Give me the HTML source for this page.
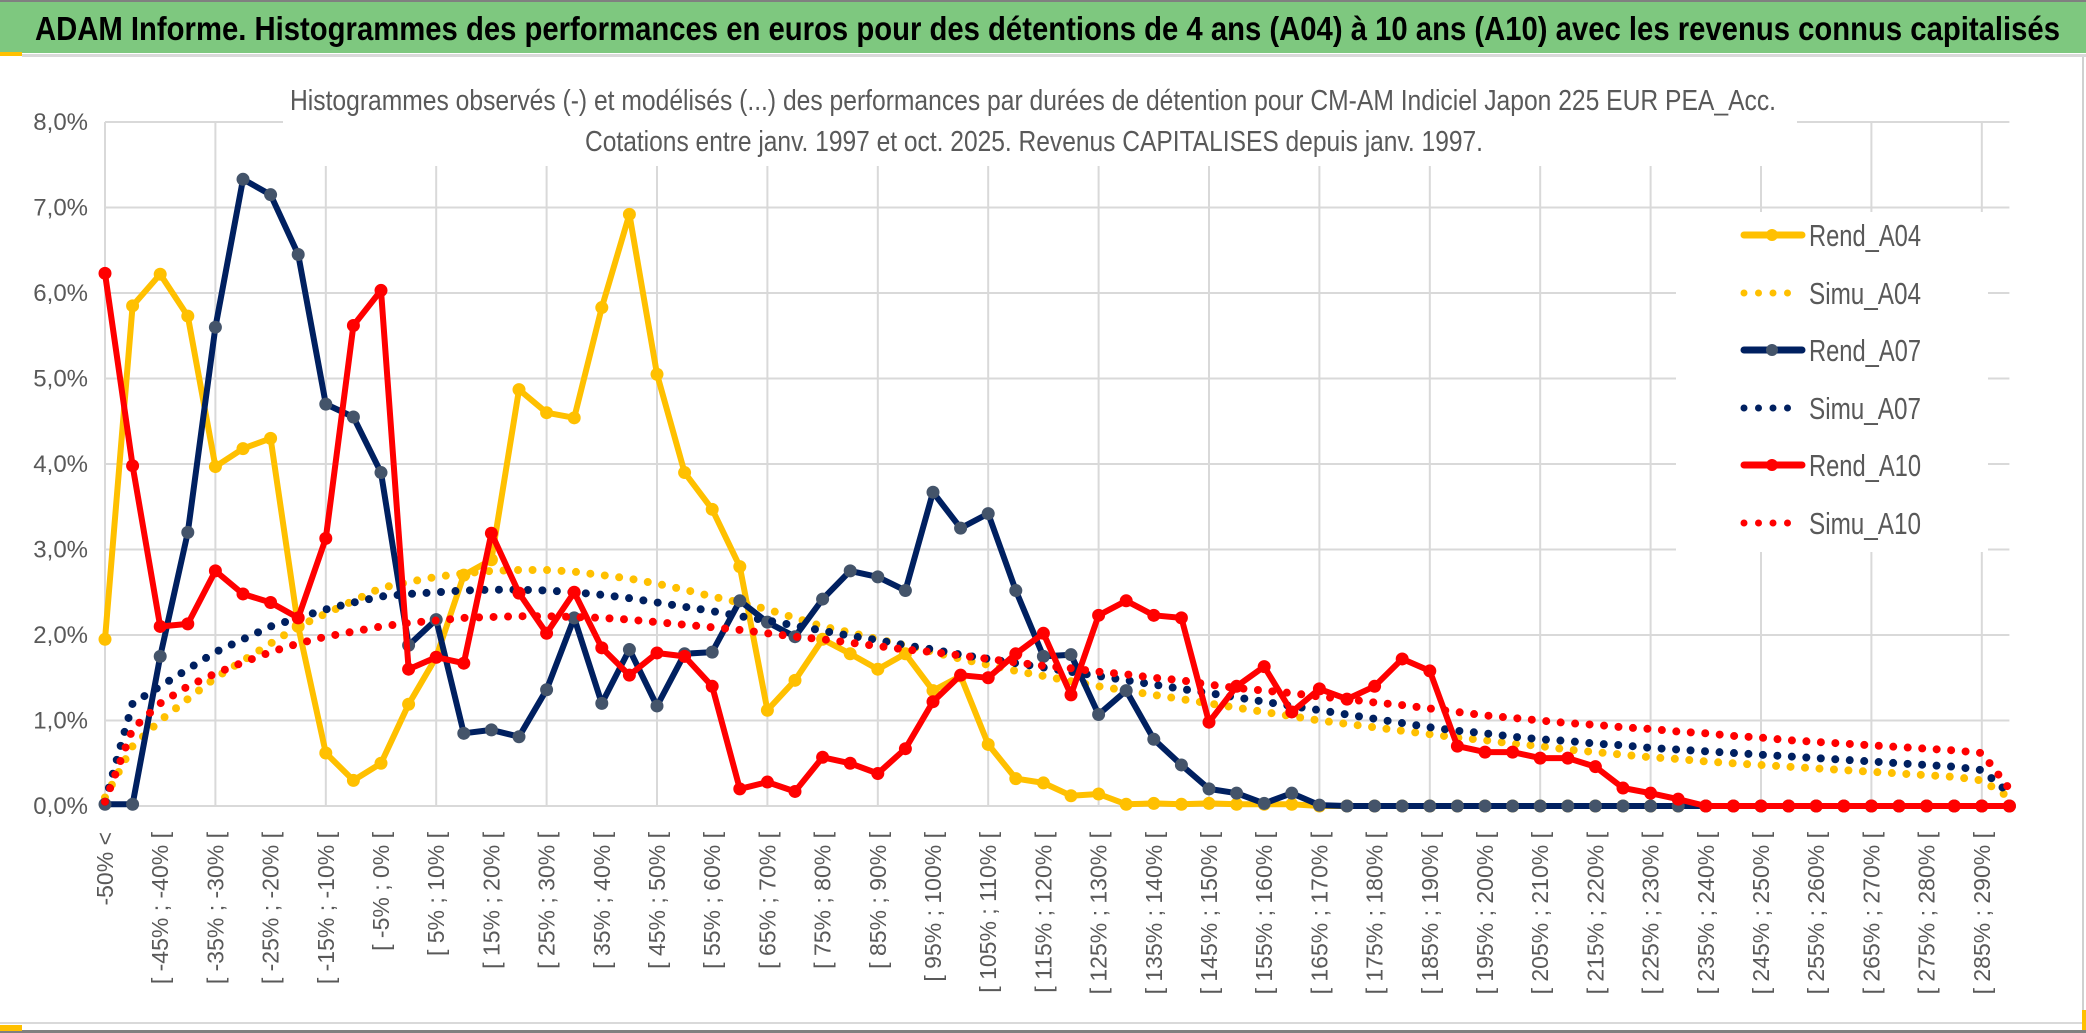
<!DOCTYPE html>
<html><head><meta charset="utf-8"><style>
html,body{margin:0;padding:0;background:#fff;}
svg{display:block;}
text{font-family:"Liberation Sans Narrow","Liberation Sans",sans-serif;}
</style></head><body>
<svg id="chart" width="2086" height="1033" viewBox="0 0 2086 1033" xmlns="http://www.w3.org/2000/svg">
<rect x="0" y="0" width="2086" height="1033" fill="#fff"/>
<rect x="0" y="0" width="2086" height="2" fill="#808080"/>
<rect x="0" y="2" width="2086" height="51" fill="#7EC87F"/>
<rect x="0" y="52" width="22" height="4" fill="#FFC000"/>
<rect x="22" y="54" width="2064" height="3" fill="#d9d9d9"/>
<text x="35" y="40" font-size="33" font-weight="bold" fill="#000" textLength="2025" lengthAdjust="spacingAndGlyphs">ADAM Informe. Histogrammes des performances en euros pour des détentions de 4 ans (A04) à 10 ans (A10) avec les revenus connus capitalisés</text>
<rect x="0" y="1022" width="2086" height="2" fill="#d9d9d9"/>
<rect x="0" y="1030" width="2086" height="3" fill="#808080"/>
<rect x="0" y="1025" width="22" height="6" fill="#FFC000"/>
<rect x="2082" y="57" width="2" height="968" fill="#d0d0d0"/>
<rect x="2082" y="1010" width="4" height="20" fill="#FFC000"/>
<g id="grid"></g>
<rect x="283" y="60" width="1514" height="106" fill="#fff"/>
<text x="1033" y="110" font-size="29" fill="#595959" text-anchor="middle" textLength="1486" lengthAdjust="spacingAndGlyphs">Histogrammes observés (-) et modélisés (...) des performances par durées de détention pour CM-AM Indiciel Japon 225 EUR PEA_Acc.</text>
<text x="1034" y="151" font-size="29" fill="#595959" text-anchor="middle" textLength="898" lengthAdjust="spacingAndGlyphs">Cotations entre janv. 1997 et oct. 2025. Revenus CAPITALISES depuis janv. 1997.</text>
<rect x="1676" y="212" width="312" height="340" fill="#fff"/>
<g id="yaxis"></g>
<g id="xaxis"></g>
<g id="series"></g>
<g id="legend"></g>
</svg>
<script>
const categories = (function(){const c=["-50% <"];for(let i=1;i<70;i++){const a=-50+5*(i-1);c.push("[ "+a+"% ; "+(a+5)+"% [");}return c;})();
const yTicks = [0,1,2,3,4,5,6,7,8];
const yTickLabels = ["0,0%","1,0%","2,0%","3,0%","4,0%","5,0%","6,0%","7,0%","8,0%"];
const rendA04 = [1.95,5.85,6.22,5.73,3.97,4.18,4.30,2.1,0.62,0.3,0.5,1.19,1.74,2.7,2.88,4.87,4.6,4.54,5.83,6.92,5.05,3.9,3.47,2.8,1.12,1.47,1.95,1.78,1.6,1.78,1.35,1.52,0.72,0.32,0.27,0.12,0.14,0.02,0.03,0.02,0.03,0.02,0.02,0.02,0,0,0,0,0,0,0,0,0,0,0,0,0,0,0,0,0,0,0,0,0,0,0,0,0,0];
const simuA04 = [0.1,0.7,1.0,1.25,1.5,1.7,1.9,2.1,2.25,2.4,2.55,2.62,2.68,2.72,2.75,2.76,2.76,2.74,2.7,2.66,2.6,2.53,2.45,2.38,2.3,2.2,2.1,2.03,1.95,1.88,1.8,1.72,1.65,1.58,1.52,1.46,1.4,1.35,1.3,1.25,1.2,1.15,1.1,1.05,1.0,0.96,0.92,0.88,0.84,0.8,0.77,0.73,0.7,0.66,0.63,0.6,0.57,0.55,0.52,0.5,0.48,0.46,0.44,0.42,0.4,0.38,0.36,0.34,0.3,0.1];
const rendA07 = [0.02,0.02,1.75,3.2,5.6,7.33,7.15,6.45,4.7,4.55,3.9,1.88,2.18,0.85,0.89,0.81,1.36,2.2,1.2,1.83,1.17,1.78,1.8,2.4,2.15,1.98,2.42,2.75,2.68,2.52,3.67,3.25,3.42,2.52,1.75,1.77,1.07,1.35,0.78,0.48,0.2,0.15,0.03,0.15,0.01,0,0,0,0,0,0,0,0,0,0,0,0,0,0,0,0,0,0,0,0,0,0,0,0,0];
const simuA07 = [0.05,1.2,1.4,1.6,1.8,1.95,2.1,2.2,2.3,2.38,2.45,2.48,2.5,2.52,2.53,2.53,2.52,2.5,2.47,2.43,2.38,2.33,2.28,2.22,2.17,2.11,2.05,1.99,1.94,1.88,1.83,1.77,1.72,1.67,1.62,1.57,1.52,1.47,1.42,1.37,1.32,1.27,1.22,1.17,1.12,1.07,1.02,0.97,0.92,0.88,0.85,0.81,0.78,0.76,0.73,0.71,0.68,0.66,0.64,0.62,0.6,0.58,0.56,0.54,0.52,0.5,0.48,0.46,0.42,0.15];
const rendA10 = [6.23,3.98,2.1,2.13,2.75,2.48,2.38,2.2,3.13,5.62,6.03,1.6,1.74,1.67,3.19,2.49,2.02,2.5,1.85,1.53,1.79,1.75,1.4,0.2,0.28,0.17,0.57,0.5,0.38,0.67,1.22,1.53,1.5,1.78,2.02,1.3,2.23,2.4,2.23,2.2,0.98,1.4,1.63,1.1,1.37,1.25,1.4,1.72,1.58,0.7,0.63,0.63,0.56,0.56,0.46,0.21,0.15,0.08,0,0,0,0,0,0,0,0,0,0,0,0];
const simuA10 = [0.05,0.9,1.2,1.4,1.55,1.68,1.8,1.9,1.98,2.04,2.1,2.14,2.17,2.2,2.21,2.22,2.22,2.21,2.2,2.18,2.15,2.12,2.09,2.06,2.02,1.98,1.95,1.91,1.87,1.83,1.8,1.76,1.72,1.68,1.64,1.61,1.57,1.54,1.5,1.47,1.42,1.38,1.35,1.32,1.28,1.25,1.21,1.18,1.14,1.1,1.06,1.03,1.0,0.97,0.95,0.92,0.9,0.87,0.85,0.82,0.8,0.77,0.75,0.73,0.71,0.69,0.67,0.65,0.62,0.2];
const seriesNames = ["Rend_A04","Simu_A04","Rend_A07","Simu_A07","Rend_A10","Simu_A10"];

const NS="http://www.w3.org/2000/svg";
const X0=105, DX=27.6, Y0=806, DY=85.5;
function xs(i){return X0+i*DX;}
function ys(v){return Y0-v*DY;}
function mk(tag,parent,attrs){const e=document.createElementNS(NS,tag);for(const k in attrs)e.setAttribute(k,attrs[k]);parent.appendChild(e);return e;}

const grid=document.getElementById('grid');
yTicks.forEach(function(t){
  const l=mk('line',grid,{x1:X0,x2:xs(categories.length-1),y1:ys(t),y2:ys(t),stroke:'#d9d9d9','stroke-width':2});
  
  
});
for(let i=0;i<categories.length;i+=4){
  const l=mk('line',grid,{x1:xs(i),x2:xs(i),y1:ys(8),y2:Y0,stroke:'#d9d9d9','stroke-width':2});
  
  
}
const ya=document.getElementById('yaxis');
yTicks.forEach(function(t,k){
  const tx=mk('text',ya,{x:88,y:ys(t)+8,'font-size':24,fill:'#595959','text-anchor':'end'});
  tx.textContent=yTickLabels[k];
  
  
});
const xa=document.getElementById('xaxis');
categories.forEach(function(c,i){
  if(i%2!==0)return;
  const x=xs(i)+8, y=832;
  const tx=mk('text',xa,{x:x,y:y,'font-size':23,fill:'#595959','text-anchor':'end',transform:'rotate(-90 '+x+' '+y+')',style:'font-family:"Liberation Sans",sans-serif'});
  tx.textContent=c;
  
  
});

const sg=document.getElementById('series');
function linePath(arr){return arr.map(function(v,i){return (i?'L':'M')+xs(i).toFixed(1)+' '+ys(v).toFixed(1);}).join(' ');}
function drawRend(arr,color,mcolor,name){
  const g=mk('g',sg,{});
  
  
  const p=mk('path',g,{d:linePath(arr),fill:'none',stroke:color,'stroke-width':6,'stroke-linejoin':'round'});
  
  
  arr.forEach(function(v,i){
    const c=mk('circle',g,{cx:xs(i),cy:ys(v),r:6.5,fill:mcolor});
    
    
  });
}
function drawSimu(arr,color,name){
  const p=mk('path',sg,{d:linePath(arr),fill:'none',stroke:color,'stroke-width':8,'stroke-linecap':'round','stroke-dasharray':'0 14.5'});
  
  
}
drawRend(rendA04,'#FFC000','#FFC000','rend-a04');
drawSimu(simuA04,'#FFC000','simu-a04');
drawRend(rendA07,'#002060','#44546A','rend-a07');
drawSimu(simuA07,'#002060','simu-a07');
drawRend(rendA10,'#FF0000','#FF0000','rend-a10');
drawSimu(simuA10,'#FF0000','simu-a10');

const lg=document.getElementById('legend');
const legColors=['#FFC000','#FFC000','#002060','#002060','#FF0000','#FF0000'];
const legMarker=['#FFC000',null,'#44546A',null,'#FF0000',null];
const legY=[235,293,350,408,465,523];
seriesNames.forEach(function(n,k){
  const g=mk('g',lg,{});
  
  
  const y=legY[k];
  if(legMarker[k]){
    mk('line',g,{x1:1744,x2:1802,y1:y,y2:y,stroke:legColors[k],'stroke-width':7,'stroke-linecap':'round'});
    mk('circle',g,{cx:1772,cy:y,r:6,fill:legMarker[k]});
  } else {
    mk('line',g,{x1:1744,x2:1802,y1:y,y2:y,stroke:legColors[k],'stroke-width':7,'stroke-linecap':'round','stroke-dasharray':'0 14.5'});
  }
  const t=mk('text',g,{x:1809,y:y+11,'font-size':31,fill:'#595959',textLength:112,lengthAdjust:'spacingAndGlyphs'});
  t.textContent=n;
});
</script>
</body></html>
